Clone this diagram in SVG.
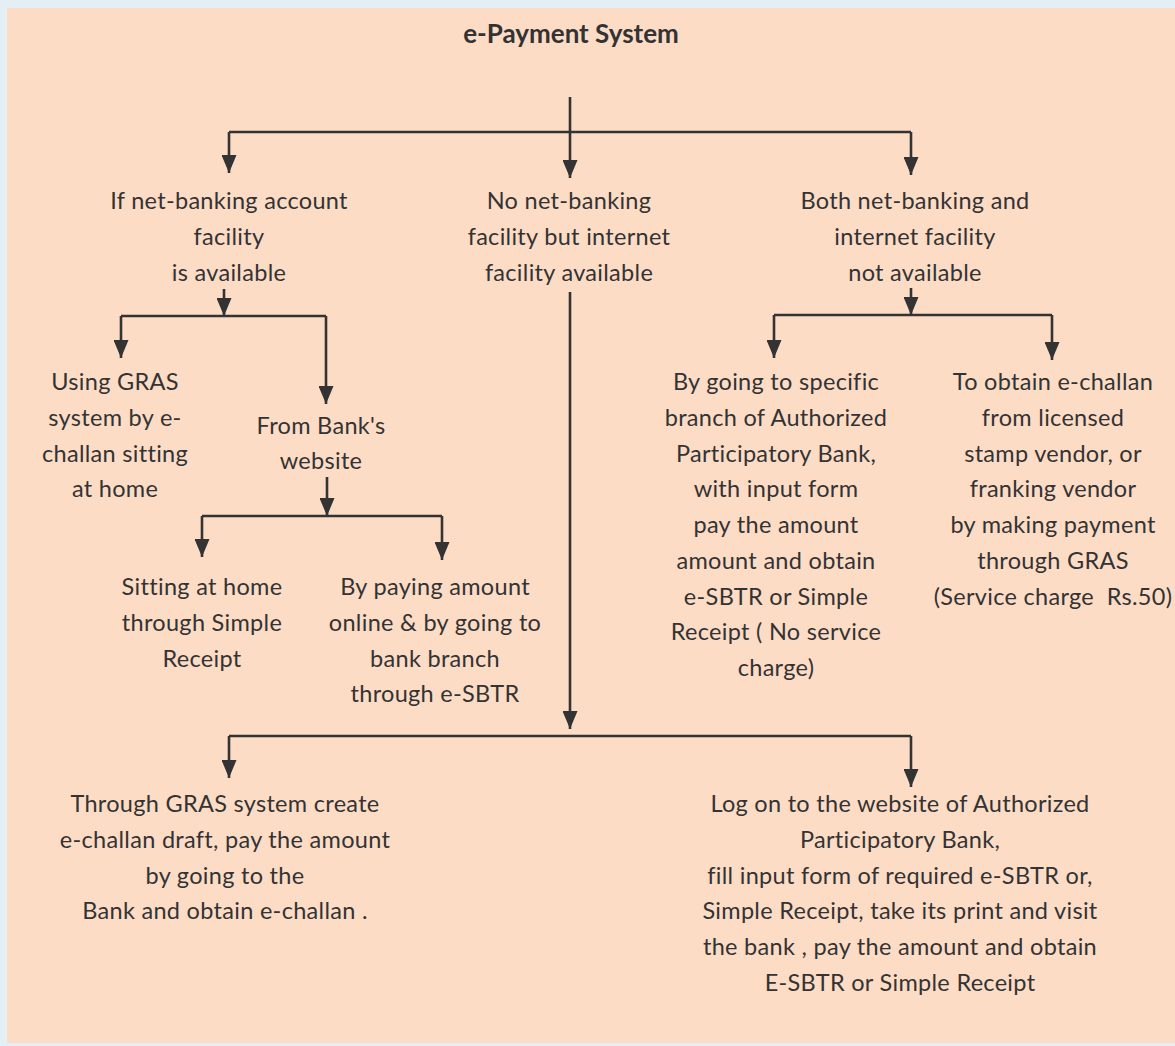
<svg xmlns="http://www.w3.org/2000/svg" width="1175" height="1046" viewBox="0 0 1175 1046">
<defs>
<style>
.bg{fill:#E3EEF5}
.panel{fill:#FDDCC6}
text{font-family:Lato,"Open Sans","Liberation Sans",sans-serif;font-size:23.5px;letter-spacing:0.3px;fill:#333333;text-anchor:middle}
.title{font-weight:bold;font-size:26px;letter-spacing:0}
.ln{fill:none;stroke:#333333;stroke-width:2.6}
.ar{marker-end:url(#ah)}
</style>
<marker id="ah" markerUnits="userSpaceOnUse" viewBox="0 0 18 15" refX="18" refY="7.5" markerWidth="18" markerHeight="15" orient="auto">
<path d="M0,0 L18,7.5 L0,15 z" fill="#333333"/>
</marker>
</defs>
<rect class="bg" x="0" y="0" width="1175" height="1046"/>
<rect class="panel" x="7" y="8" width="1168" height="1035"/>
<g id="connectors">
<path class="ln ar" d="M570,97 V178"/>
<path class="ln" d="M229,132 H911"/>
<path class="ln ar" d="M229,132 V173"/>
<path class="ln ar" d="M911,132 V175"/>
<path class="ln ar" d="M224,289 V316"/>
<path class="ln" d="M121,316 H326"/>
<path class="ln ar" d="M121,316 V358"/>
<path class="ln ar" d="M326,316 V404"/>
<path class="ln ar" d="M327,477 V516"/>
<path class="ln" d="M202,516 H442"/>
<path class="ln ar" d="M202,516 V557"/>
<path class="ln ar" d="M442,516 V560"/>
<path class="ln ar" d="M570,292 V729"/>
<path class="ln" d="M229,736 H911"/>
<path class="ln ar" d="M229,736 V778"/>
<path class="ln ar" d="M911,736 V787"/>
<path class="ln ar" d="M911,288 V315"/>
<path class="ln" d="M774,315 H1052"/>
<path class="ln ar" d="M774,315 V358"/>
<path class="ln ar" d="M1052,315 V360"/>
</g>
<g id="title"><text class="title" x="571" y="43">e-Payment System</text></g>
<g id="n-netbanking"><text x="229" y="209">If net-banking account<tspan x="229" y="245">facility</tspan><tspan x="229" y="281">is available</tspan></text></g>
<g id="n-internet"><text x="569" y="209">No net-banking<tspan x="569" y="245">facility but internet</tspan><tspan x="569" y="281">facility available</tspan></text></g>
<g id="n-none"><text x="915" y="209">Both net-banking and<tspan x="915" y="245">internet facility</tspan><tspan x="915" y="281">not available</tspan></text></g>
<g id="n-gras-home"><text x="115" y="390">Using GRAS<tspan x="115" y="426">system by e-</tspan><tspan x="115" y="462">challan sitting</tspan><tspan x="115" y="497">at home</tspan></text></g>
<g id="n-bank-website"><text x="321" y="434">From Bank's<tspan x="321" y="469">website</tspan></text></g>
<g id="n-simple-receipt"><text x="202" y="595">Sitting at home<tspan x="202" y="631">through Simple</tspan><tspan x="202" y="667">Receipt</tspan></text></g>
<g id="n-esbtr"><text x="435" y="595">By paying amount<tspan x="435" y="631">online &amp; by going to</tspan><tspan x="435" y="667">bank branch</tspan><tspan x="435" y="702">through e-SBTR</tspan></text></g>
<g id="n-branch"><text x="776" y="390">By going to specific<tspan x="776" y="426">branch of Authorized</tspan><tspan x="776" y="462">Participatory Bank,</tspan><tspan x="776" y="497">with input form</tspan><tspan x="776" y="533">pay the amount</tspan><tspan x="776" y="569">amount and obtain</tspan><tspan x="776" y="605">e-SBTR or Simple</tspan><tspan x="776" y="640">Receipt ( No service</tspan><tspan x="776" y="676">charge)</tspan></text></g>
<g id="n-vendor"><text x="1053" y="390" style="white-space:pre">To obtain e-challan<tspan x="1053" y="426">from licensed</tspan><tspan x="1053" y="462">stamp vendor, or</tspan><tspan x="1053" y="497">franking vendor</tspan><tspan x="1053" y="533">by making payment</tspan><tspan x="1053" y="569">through GRAS</tspan><tspan x="1053" y="605">(Service charge  Rs.50)</tspan></text></g>
<g id="n-gras-draft"><text x="225" y="812">Through GRAS system create<tspan x="225" y="848">e-challan draft, pay the amount</tspan><tspan x="225" y="884">by going to the</tspan><tspan x="225" y="919">Bank and obtain e-challan .</tspan></text></g>
<g id="n-logon"><text x="900" y="812">Log on to the website of Authorized<tspan x="900" y="848">Participatory Bank,</tspan><tspan x="900" y="884">fill input form of required e-SBTR or,</tspan><tspan x="900" y="919">Simple Receipt, take its print and visit</tspan><tspan x="900" y="955">the bank , pay the amount and obtain</tspan><tspan x="900" y="991">E-SBTR or Simple Receipt</tspan></text></g>
</svg>
